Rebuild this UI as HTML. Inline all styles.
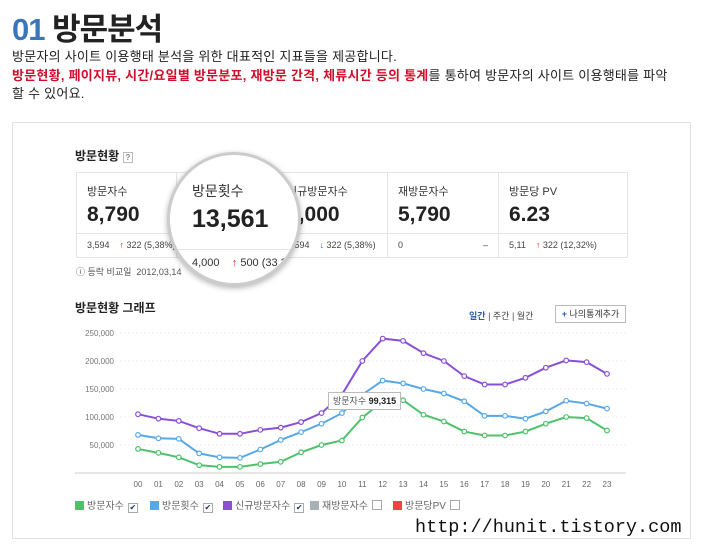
<!DOCTYPE html>
<html><head><meta charset="utf-8"><style>
body{margin:0;width:701px;height:545px;background:#fff;font-family:"Liberation Sans","Noto Sans CJK KR",sans-serif;position:relative;overflow:hidden}
.a{position:absolute}
.t{color:#222;font-size:13px;line-height:18.5px}
.red{color:#d0102a;font-weight:bold}
.cell{position:absolute;top:0;height:84px;border-right:1px solid #e4e4e4}
.lab{position:absolute;left:10px;top:10px;font-size:11px;color:#333}
.val{position:absolute;left:10px;top:30px;font-size:21px;font-weight:bold;color:#222}
.sub{position:absolute;left:0;right:0;top:60px;border-top:1px solid #e4e4e4;font-size:9px;color:#444;padding:6px 10px;white-space:nowrap;overflow:hidden}
.lg{position:absolute;top:497px;font-size:10px;color:#666;white-space:nowrap}
.sw{display:inline-block;width:9px;height:9px;vertical-align:-1px;margin-right:3px}
.cb{display:inline-block;width:8px;height:8px;border:1px solid #aaa;vertical-align:-1px;margin-left:4px;font-size:8px;line-height:8px;color:#237;text-align:center}
</style></head><body>
<div class="a" style="left:12px;top:4px;font-size:31px;font-weight:bold;color:#222;letter-spacing:-1px"><span style="color:#3a76b8">01</span> 방문분석</div>
<div class="a t" style="left:12px;top:48px;width:690px;letter-spacing:0.25px;white-space:nowrap">방문자의 사이트 이용행태 분석을 위한 대표적인 지표들을 제공합니다.<br><span class="red">방문현황, 페이지뷰, 시간/요일별 방문분포, 재방문 간격, 체류시간 등의 통계</span>를 통하여 방문자의 사이트 이용행태를 파악<br>할 수 있어요.</div>
<div class="a" style="left:12px;top:122px;width:677px;height:415px;border:1px solid #e2e2e2"></div>
<div class="a" style="left:75px;top:147px;font-size:12px;font-weight:bold;color:#222">방문현황 <span style="font-size:8px;border:1px solid #bbb;color:#888;padding:0 2px">?</span></div>
<div class="a" style="left:76px;top:172px;width:550px;height:84px;border:1px solid #e4e4e4">
<div class="cell" style="left:0;width:99px"><div class="lab">방문자수</div><div class="val">8,790</div><div class="sub">3,594 &nbsp;&nbsp;&nbsp;<span style="color:#d22">↑</span> 322 (5,38%)</div></div>
<div class="cell" style="left:100px;width:99px"></div>
<div class="cell" style="left:200px;width:110px"><div class="lab">신규방문자수</div><div class="val">3,000</div><div class="sub">3,594 &nbsp;&nbsp;&nbsp;<span style="color:#36c">↓</span> 322 (5,38%)</div></div>
<div class="cell" style="left:311px;width:110px"><div class="lab">재방문자수</div><div class="val">5,790</div><div class="sub">0 <span style="float:right">–</span></div></div>
<div class="cell" style="left:422px;width:128px;border:none"><div class="lab">방문당 PV</div><div class="val">6.23</div><div class="sub">5,11 &nbsp;&nbsp;&nbsp;<span style="color:#d22">↑</span> 322 (12,32%)</div></div>
</div>
<div class="a" style="left:76px;top:265px;font-size:9px;color:#555">ⓘ 등락 비교일 &nbsp;2012,03,14</div>
<div class="a" style="left:167px;top:152px;width:128px;height:128px;border-radius:50%;border:3px solid #ccc;background:#fff;box-shadow:0 2px 6px rgba(0,0,0,.3);overflow:hidden">
<div style="position:absolute;left:22px;top:26px;font-size:14px;color:#333">방문횟수</div>
<div style="position:absolute;left:22px;top:50px;font-size:25px;font-weight:bold;color:#222">13,561</div>
<div style="position:absolute;left:0;right:0;top:94px;border-top:1px solid #e4e4e4"></div>
<div style="position:absolute;left:22px;top:102px;font-size:11px;color:#333;white-space:nowrap">4,000 &nbsp;&nbsp;&nbsp;<span style="color:#d22">↑</span> 500 (33,3</div>
</div>
<div class="a" style="left:75px;top:299px;font-size:12px;font-weight:bold;color:#222">방문현황 그래프</div>
<div class="a" style="left:469px;top:309px;font-size:9px;color:#444"><b style="color:#2a5ca8">일간</b> | 주간 | 월간</div>
<div class="a" style="left:555px;top:305px;width:69px;height:16px;border:1px solid #bbb;font-size:9px;line-height:16px;text-align:center;color:#333"><b style="color:#2a5ca8">+</b> 나의통계추가</div>
<svg class="a" style="left:0;top:0" width="701" height="545"><g id="g"></g></svg>
<div class="a" style="left:328px;top:392px;height:16px;padding:0 4px;border:1px solid #bbb;background:#fff;font-size:9px;line-height:16px;color:#555">방문자수 <b style="color:#222">99,315</b></div>
<div class="lg" style="left:75px"><span class="sw" style="background:#4cc26a"></span>방문자수<span class="cb">✔</span></div>
<div class="lg" style="left:150px"><span class="sw" style="background:#58a8e6"></span>방문횟수<span class="cb">✔</span></div>
<div class="lg" style="left:223px"><span class="sw" style="background:#8a4fd8"></span>신규방문자수<span class="cb">✔</span></div>
<div class="lg" style="left:310px"><span class="sw" style="background:#a8b0b8"></span>재방문자수<span class="cb"></span></div>
<div class="lg" style="left:393px"><span class="sw" style="background:#ee4444"></span>방문당PV<span class="cb"></span></div>
<div class="a" style="left:415px;top:517px;font-family:'Liberation Mono',monospace;font-size:18.5px;color:#111">http://hunit.tistory.com</div>
<script>
const hours=["00","01","02","03","04","05","06","07","08","09","10","11","12","13","14","15","16","17","18","19","20","21","22","23"];
const yTicks=[50000,100000,150000,200000,250000];
const newVisitors=[105,97,93,80,70,70,77,81,91,107,140,200,240,236,214,200,173,158,158,170,188,201,198,177];
const visits=[68,62,61,35,28,27,42,59,73,88,107,140,165,160,150,142,128,102,102,97,110,129,124,115];
const visitors=[43,36,28,14,11,11,16,20,37,50,58,99,128,130,104,92,74,67,67,74,88,100,98,76];
const NS="http://www.w3.org/2000/svg",g=document.getElementById('g');
const x=i=>138+i*(607-138)/(hours.length-1);
const y=v=>473-v*0.56/1000;
function el(t,a){const e=document.createElementNS(NS,t);for(const k in a)e.setAttribute(k,a[k]);g.appendChild(e);return e;}
yTicks.forEach(v=>{const l=el('line',{x1:120,x2:626,y1:y(v),y2:y(v),stroke:'#eee','stroke-dasharray':'2,2'});


const t=el('text',{x:114,y:y(v)+3,'text-anchor':'end','font-size':8,fill:'#777'});t.textContent=v.toLocaleString('en-US');

});
const ax=el('line',{x1:75,x2:626,y1:473,y2:473,stroke:'#ccc'});


hours.forEach((h,i)=>{const t=el('text',{x:x(i),y:487,'text-anchor':'middle','font-size':8,fill:'#666'});t.textContent=h;

});
[[newVisitors,'#8a4fd8','new-visitors'],[visits,'#58a8e6','visits'],[visitors,'#4cc26a','visitors']].forEach(([d,c,n])=>{
const p=el('polyline',{points:d.map((v,i)=>x(i)+','+y(v*1000)).join(' '),fill:'none',stroke:c,'stroke-width':2});


d.forEach((v,i)=>{const q=el('circle',{cx:x(i),cy:y(v*1000),r:2.3,fill:'#fff',stroke:c,'stroke-width':1.2});

});});
</script>
</body></html>
